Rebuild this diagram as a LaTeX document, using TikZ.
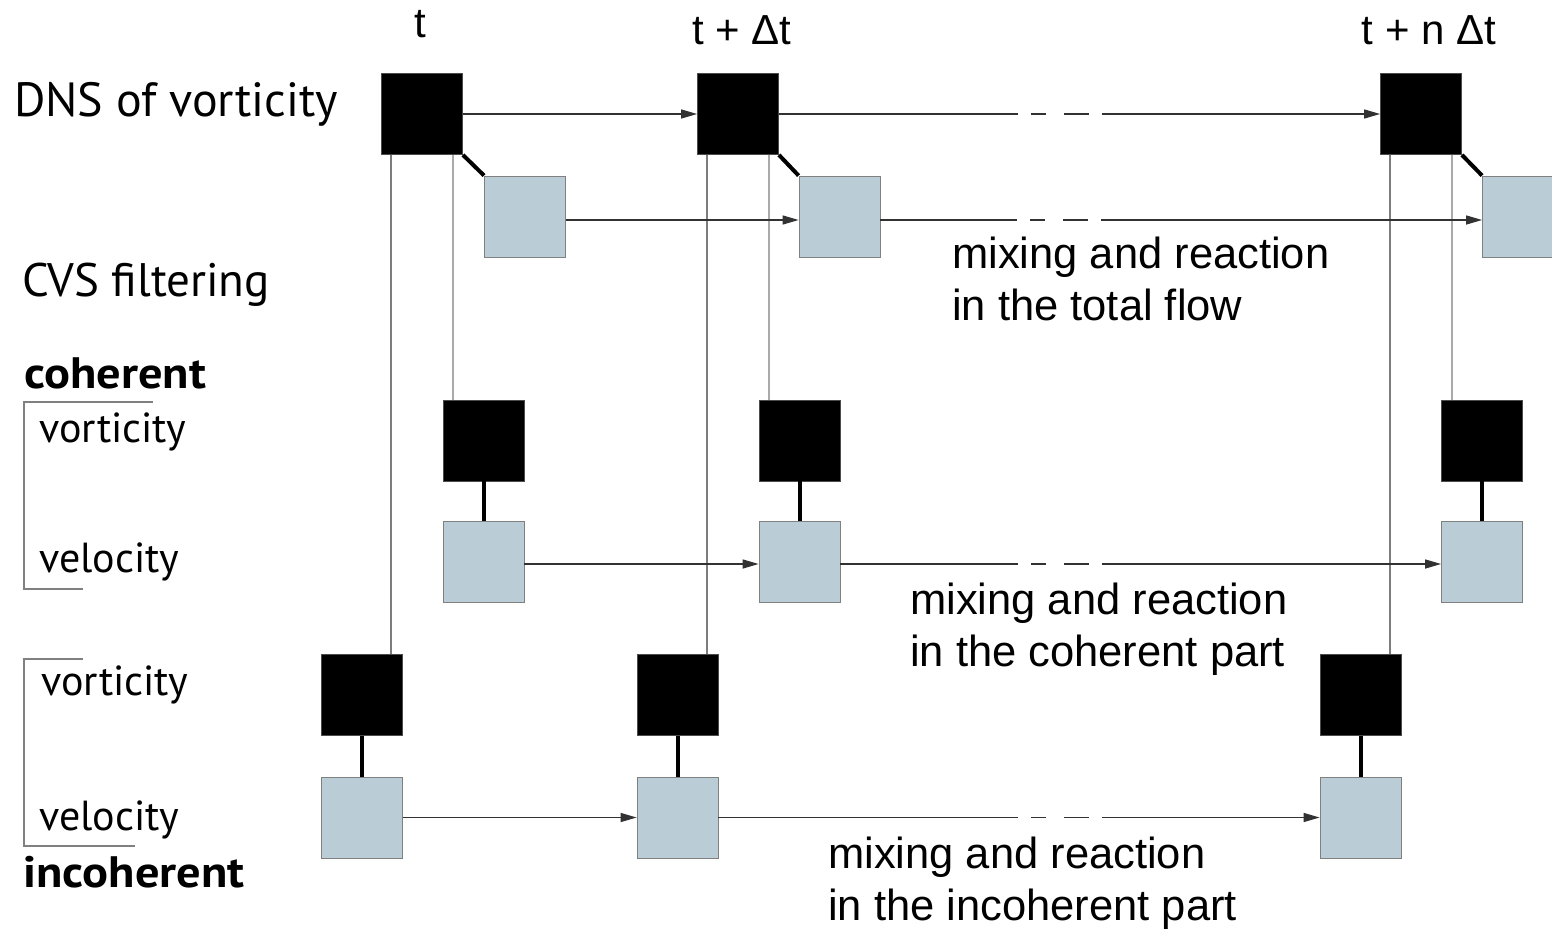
\documentclass[tikz,border=0pt]{standalone}
\usepackage{fontspec}
\setmainfont{Liberation Sans}
\newfontfamily\lblfont{PT Sans}
\newfontfamily\lblbold[FakeStretch=1.1]{PT Sans Bold}
\usetikzlibrary{arrows.meta}
\definecolor{boxgrey}{RGB}{186,204,213}
\definecolor{lineA}{RGB}{125,125,125}
\definecolor{lineB}{RGB}{170,170,170}
\definecolor{arrowc}{RGB}{50,50,50}
\begin{document}
\begin{tikzpicture}[x=1pt,y=-1pt,
  blk/.style={draw=gray!60!black, line width=0.8pt, fill=black, minimum size=81pt, inner sep=0pt},
  gbx/.style={draw=gray, line width=0.8pt, fill=boxgrey, minimum size=81pt, inner sep=0pt},
  flow/.style={draw=arrowc, line width=1.3pt, -{Triangle[length=16pt,width=9pt]}},
  gapped/.style={dash pattern=on #1 off 13pt on 15pt off 18pt on 25pt off 13pt on 2000pt},
  link/.style={line width=4pt, black},
  vA/.style={draw=lineA, line width=1.3pt},
  vB/.style={draw=lineB, line width=1.3pt},
  brk/.style={draw=gray, line width=1.5pt},
  lbl/.style={inner sep=0pt, anchor=base west, font=\lblfont\fontsize{42}{50}\selectfont},
  biglbl/.style={inner sep=0pt, anchor=base west, font=\lblfont\fontsize{48}{57}\selectfont},
  boldlbl/.style={inner sep=0pt, anchor=base west, font=\lblbold\fontsize{44}{52}\selectfont},
  note/.style={inner sep=0pt, anchor=base west, font=\fontsize{43.5}{52}\selectfont},
  tlbl/.style={inner sep=0pt, anchor=base, font=\fontsize{42}{50}\selectfont}
]
\useasboundingbox[fill=white] (0,0) rectangle (1552,931);

% time labels
\node[tlbl] (t0) at (420,38) {t};
\node[tlbl] (t1) at (742,45) {t + Δt};
\node[tlbl] (t2) at (1429,45) {t + n Δt};

% left labels
\node[biglbl] (dns) at (14,117) {DNS of vorticity};
\node[lbl, font=\lblfont\fontsize{47}{56}\selectfont] (cvs) at (22,296) {CVS filtering};
\node[boldlbl] (coh) at (24,388) {coherent};
\node[lbl] (cvort) at (39,442) {vorticity};
\node[lbl] (cvel) at (39,572) {velocity};
\node[lbl] (ivort) at (41,695) {vorticity};
\node[lbl] (ivel) at (39,830) {velocity};
\node[boldlbl] (incoh) at (23,887) {incoherent};

% brackets
\draw[brk] (83,589) -- (24,589) -- (24,402) -- (153,402);
\draw[brk] (83,659) -- (24,659) -- (24,846) -- (135,846);

% top row (DNS)
\node[blk] (T1) at (422,114) {};
\node[blk] (T2) at (738,114) {};
\node[blk] (T3) at (1421,114) {};
% total-flow velocity
\node[gbx] (G1) at (525,216.5) {};
\node[gbx] (G2) at (839.5,216.5) {};
\node[gbx] (G3) at (1523,216.5) {};
% coherent
\node[blk] (C1) at (483.5,440.5) {};
\node[blk] (C2) at (799.5,440.5) {};
\node[blk] (C3) at (1482,440.5) {};
\node[gbx] (CG1) at (483.5,562) {};
\node[gbx] (CG2) at (799.5,562) {};
\node[gbx] (CG3) at (1482,562) {};
% incoherent
\node[blk] (I1) at (362,695) {};
\node[blk] (I2) at (677.5,695) {};
\node[blk] (I3) at (1360.5,695) {};
\node[gbx] (IG1) at (362,817.5) {};
\node[gbx] (IG2) at (677.5,817.5) {};
\node[gbx] (IG3) at (1360.5,817.5) {};

% vertical filtering lines
\foreach \n/\c/\i in {T1/C1/I1, T2/C2/I2, T3/C3/I3}{
  \draw[vA] ([xshift=-31pt]\n.south) -- ([xshift=-31pt]\n.south |- \i.north);
  \draw[vB] ([xshift=31pt]\n.south) -- ([xshift=31pt]\n.south |- \c.north);
}

% vorticity-velocity links
\foreach \a/\b in {T1/G1, T2/G2, T3/G3}{
  \draw[link] (\a.south east) -- (\b.north west);
}
\foreach \a/\b in {C1/CG1, C2/CG2, C3/CG3, I1/IG1, I2/IG2, I3/IG3}{
  \draw[link] (\a.south) -- (\b.north);
}

% time-advance arrows
\draw[flow] (T1.east) -- (T2.west);
\draw[flow, gapped=239pt] (T2.east) -- (T3.west);
\draw[flow] ([yshift=-3.5pt]G1.east) -- ([yshift=-3.5pt]G2.west);
\draw[flow, gapped=137pt] ([yshift=-3.5pt]G2.east) -- ([yshift=-3.5pt]G3.west);
\draw[flow] ([yshift=-2pt]CG1.east) -- ([yshift=-2pt]CG2.west);
\draw[flow, gapped=177.5pt] ([yshift=-2pt]CG2.east) -- ([yshift=-2pt]CG3.west);
\draw[flow] (IG1.east) -- (IG2.west);
\draw[flow, gapped=299.5pt] (IG2.east) -- (IG3.west);

% annotations
\node[note] (m1a) at (952,268) {mixing and reaction};
\node[note] (m1b) at (952,320) {in the total flow};
\node[note] (m2a) at (910,614) {mixing and reaction};
\node[note] (m2b) at (910,666) {in the coherent part};
\node[note] (m3a) at (828,868) {mixing and reaction};
\node[note] (m3b) at (828,920) {in the incoherent part};
\end{tikzpicture}
\end{document}
